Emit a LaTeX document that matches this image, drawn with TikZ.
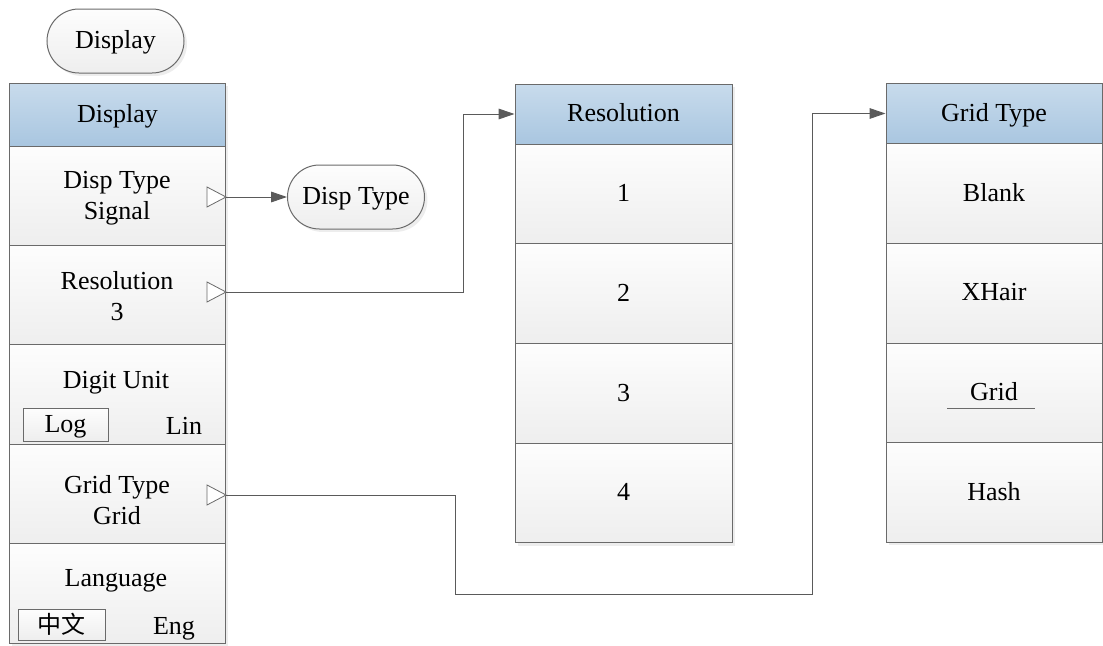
\documentclass[tikz,border=0pt]{standalone}
\usepackage{fontspec}
\setmainfont{Liberation Serif}
\newfontfamily\cjk{Noto Sans CJK SC}
\usetikzlibrary{arrows.meta,shadows}
\definecolor{edgegray}{HTML}{6A6A6A}
\definecolor{linegray}{HTML}{5A5A5A}
\definecolor{rowtop}{HTML}{FDFDFD}
\definecolor{rowbot}{HTML}{EEEEEE}
\definecolor{hdrtop}{HTML}{C8DBEC}
\definecolor{hdrbot}{HTML}{A9C6E0}
\begin{document}
\begin{tikzpicture}[x=0.75pt,y=-0.75pt,
  font=\fontsize{19.5}{23.25}\selectfont,
  shad/.style={drop shadow={shadow xshift=2.2pt,shadow yshift=-2.2pt,fill=black!14}},
  cell/.style={draw=edgegray, line width=0.75pt, top color=rowtop, bottom color=rowbot,
    inner sep=0pt, align=center, shad},
  one/.style={text height=15.5pt, text depth=4pt},
  lcell/.style={cell, minimum width=162pt, minimum height=74.55pt},
  rcell/.style={cell, one, minimum width=162.75pt, minimum height=74.8pt},
  hdr/.style={cell, one, top color=hdrtop, bottom color=hdrbot},
  pill/.style={cell, one, rounded corners=24pt, minimum width=102.75pt, minimum height=48pt},
  sel/.style={draw=edgegray, line width=0.75pt, top color=rowtop, bottom color=rowbot, inner sep=0pt},
  lbl/.style={inner sep=0pt, one},
  two/.style={inner sep=0pt, align=center},
  tri/.style={draw=edgegray, line width=0.6pt, fill=white},
  conn/.style={draw=linegray, line width=0.75pt, -{Triangle[length=12pt,width=8pt]}}
]
\useasboundingbox (0,0) rectangle (1103,646);

% top pill
\node[pill] (top) at (115.5,41) {Display};

% left column
\node[hdr, minimum width=162pt, minimum height=47.25pt] (dh) at (117.5,114.5) {Display};
\node[lcell] (d1) at (117.5,195.7) {};
\node[lcell] (d2) at (117.5,295.1) {};
\node[lcell] (d3) at (117.5,394.5) {};
\node[lcell] (d4) at (117.5,493.9) {};
\node[lcell] (d5) at (117.5,593.3) {};

\node[two] (d1t) at (117,198) {Disp Type\\Signal};
\node[two] (d2t) at (117,296.5) {Resolution\\3};
\node[two] (d4t) at (117,500) {Grid Type\\Grid};

\node[lbl] (du) at (116,381) {Digit Unit};
\node[sel, one, minimum width=63.75pt, minimum height=24.75pt] (log) at (65.5,424.5) {Log};
\node[lbl] (lin) at (184,427) {Lin};
\node[lbl] (lang) at (116,579) {Language};
\node[sel, minimum width=65.25pt, minimum height=23.25pt] (zw) at (61.5,624.5) {\cjk\fontsize{18}{20}\selectfont 中文};
\node[lbl] (eng) at (174,627) {Eng};

% triangles
\foreach \yy/\nm in {197/t1, 292/t2, 495/t4}{
  \draw[tri] (207,\yy-10) -- (226,\yy) -- (207,\yy+10) -- cycle;
  \coordinate (\nm) at (226,\yy);
}

% Disp Type pill
\node[pill] (dt) at (356,197) {Disp Type};

% Resolution column
\node[hdr, minimum width=162.75pt, minimum height=45pt] (rh) at (623.5,114) {Resolution};
\node[rcell] (r1) at (623.5,193.9) {1};
\node[rcell] (r2) at (623.5,293.6) {2};
\node[rcell] (r3) at (623.5,393.4) {3};
\node[rcell] (r4) at (623.5,493.1) {4};

% Grid Type column
\node[hdr, minimum width=162pt, minimum height=45.75pt] (gh) at (994,113.5) {Grid Type};
\node[rcell, minimum width=162pt] (g1) at (994,193.6) {Blank};
\node[rcell, minimum width=162pt] (g2) at (994,293.3) {XHair};
\node[rcell, minimum width=162pt] (g3) at (994,392.9) {Grid};
\node[rcell, minimum width=162pt] (g4) at (994,492.5) {Hash};
\draw[draw=edgegray, line width=0.75pt] (947,408) -- (1035,408);

% connectors
\draw[conn] (t1) -- (dt.west);
\draw[conn] (t2) -- (463,292) |- (rh.west);
\draw[conn] (t4) -- (455,495) -- (455,594) -- (812,594) |- (gh.west);
\end{tikzpicture}
\end{document}
